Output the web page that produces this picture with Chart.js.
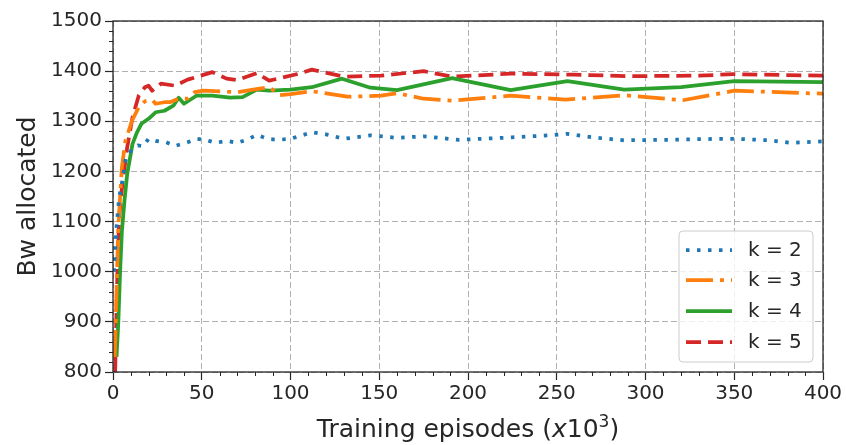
<!DOCTYPE html>
<html>
<head>
<meta charset="utf-8">
<script src="https://cdn.jsdelivr.net/npm/chart.js@4.4.1/dist/chart.umd.min.js"></script>
<style>
  html, body { margin: 0; padding: 0; background: #fff; }
  canvas { display: block; }
</style>
</head>
<body>
<canvas id="chart" width="846" height="445"></canvas>
<script>
// ---- data (x in thousands of episodes) ----
const X_K2 = [0.5, 2, 3.5, 5, 7, 8, 11, 14, 17, 20, 24, 30, 35, 42, 47, 52, 58, 64, 70, 76, 81, 87, 93, 100, 112, 120, 130, 145, 160, 175, 195, 225, 246, 256, 270, 288, 310, 341, 351, 370, 382, 400];
const Y_K2 = [1000, 1090, 1150, 1175, 1222, 1232, 1245, 1252, 1250, 1265, 1261, 1258, 1251, 1258, 1265, 1263, 1257, 1261, 1257, 1264, 1273, 1265, 1263, 1265, 1278, 1274, 1265, 1272, 1267, 1270, 1263, 1268, 1272, 1275, 1268, 1262, 1263, 1265, 1265, 1262, 1257, 1260];

const X_K3 = [1, 2, 3, 5, 7, 10.7, 14.5, 18, 22, 24, 29, 32, 37, 42, 46, 51, 70, 79, 88, 94, 100, 112, 132, 151, 160, 175, 191, 224, 255, 288, 321, 350, 400];
const Y_K3 = [830, 960, 1090, 1208, 1261, 1301, 1328, 1340, 1343, 1335, 1338, 1338, 1345, 1345, 1358, 1361, 1358, 1363, 1368, 1352, 1354, 1360, 1349, 1351, 1356, 1345, 1341, 1351, 1343, 1352, 1342, 1361, 1355];

const X_K4 = [2, 3, 4, 5, 6.5, 8, 11, 13.5, 16, 20, 24, 29, 34, 37, 40, 47, 56, 66, 73, 81, 88, 100, 112, 129, 145, 160, 191, 224, 256, 288, 320, 350, 400];
const Y_K4 = [830, 900, 1000, 1080, 1143, 1195, 1255, 1278, 1295, 1305, 1318, 1321, 1331, 1347, 1335, 1351, 1351, 1347, 1348, 1363, 1361, 1363, 1368, 1385, 1367, 1362, 1386, 1362, 1380, 1363, 1368, 1380, 1378];

const X_K5 = [1.2, 2.5, 3.5, 4.5, 6, 8, 11, 14.5, 18, 20, 22, 27, 35, 42, 56, 64, 70, 81, 88, 94, 105, 112, 130, 151, 175, 191, 224, 260, 290, 330, 350, 400];
const Y_K5 = [800, 1000, 1110, 1150, 1195, 1248, 1308, 1351, 1368, 1371, 1361, 1375, 1371, 1383, 1398, 1385, 1382, 1396, 1381, 1386, 1395, 1403, 1389, 1391, 1400, 1389, 1395, 1393, 1390, 1391, 1394, 1391];

const LABELS = ['k = 2', 'k = 3', 'k = 4', 'k = 5'];
const X_TICKS = [0, 50, 100, 150, 200, 250, 300, 350, 400];
const Y_TICKS = [800, 900, 1000, 1100, 1200, 1300, 1400, 1500];

const COLORS = ['#1f77b4', '#ff7f0e', '#2ca02c', '#d62728'];
const DASHES = [[3.5, 7.5], [27, 7, 4, 7], [], [15, 7]];
const TEXT = '#262626';
const FONT = '"DejaVu Sans", sans-serif';

const series = [[X_K2, Y_K2], [X_K3, Y_K3], [X_K4, Y_K4], [X_K5, Y_K5]];

// minor ticks, frame, axis titles, legend
const decor = {
  id: 'decor',
  afterDraw(chart) {
    const { ctx, chartArea: a, scales: { x, y } } = chart;
    ctx.save();
    ctx.strokeStyle = TEXT;
    ctx.lineWidth = 1;
    ctx.beginPath();
    for (let v = 0; v <= 400; v += 10) {
      if (v % 50 === 0) continue;
      const px = Math.round(x.getPixelForValue(v)) + 0.5;
      ctx.moveTo(px, a.bottom); ctx.lineTo(px, a.bottom + 4);
    }
    for (let v = 800; v <= 1500; v += 20) {
      if (v % 100 === 0) continue;
      const py = Math.round(y.getPixelForValue(v)) + 0.5;
      ctx.moveTo(a.left, py); ctx.lineTo(a.left - 4, py);
    }
    ctx.stroke();

    ctx.lineWidth = 1.3;
    ctx.strokeRect(a.left, a.top, a.right - a.left, a.bottom - a.top);

    // axis titles
    ctx.fillStyle = TEXT;
    ctx.textBaseline = 'alphabetic';
    const parts = [
      { t: 'Training episodes (', f: `25px ${FONT}`, dy: 0 },
      { t: 'x', f: `italic 25px ${FONT}`, dy: 0 },
      { t: '10', f: `25px ${FONT}`, dy: 0 },
      { t: '3', f: `17px ${FONT}`, dy: -10 },
      { t: ')', f: `25px ${FONT}`, dy: 0 }
    ];
    let w = 0;
    parts.forEach(p => { ctx.font = p.f; p.w = ctx.measureText(p.t).width; w += p.w; });
    let cx = (a.left + a.right) / 2 - w / 2;
    parts.forEach(p => { ctx.font = p.f; ctx.textAlign = 'left'; ctx.fillText(p.t, cx, 437 + p.dy); cx += p.w; });

    ctx.save();
    ctx.translate(35, (a.top + a.bottom) / 2);
    ctx.rotate(-Math.PI / 2);
    ctx.font = `25px ${FONT}`;
    ctx.textAlign = 'center';
    ctx.fillText('Bw allocated', 0, 0);
    ctx.restore();

    // legend box
    const bx = 679, by = 231, bw = 134, bh = 131, r = 4;
    ctx.beginPath();
    ctx.roundRect(bx, by, bw, bh, r);
    ctx.fillStyle = 'rgba(255,255,255,0.8)';
    ctx.fill();
    ctx.strokeStyle = '#cccccc';
    ctx.lineWidth = 1;
    ctx.stroke();
    const rows = [250, 280, 311, 342];
    LABELS.forEach((lab, i) => {
      ctx.beginPath();
      ctx.setLineDash(DASHES[i]);
      ctx.lineCap = 'butt';
      ctx.strokeStyle = COLORS[i];
      ctx.lineWidth = 3.75;
      ctx.moveTo(686, rows[i]); ctx.lineTo(732, rows[i]);
      ctx.stroke();
      ctx.setLineDash([]);
      ctx.fillStyle = TEXT;
      ctx.font = `20px ${FONT}`;
      ctx.textAlign = 'left';
      ctx.textBaseline = 'middle';
      ctx.fillText(lab, 748, rows[i] + 1);
    });
    ctx.restore();
  }
};

const gridOpts = {
  color: '#b0b0b0',
  lineWidth: 1,
  tickColor: TEXT,
  tickLength: 8,
  tickWidth: 1.2,
  tickBorderDash: []
};

new Chart(document.getElementById('chart'), {
  type: 'line',
  data: {
    datasets: series.map(([xs, ys], i) => ({
      label: LABELS[i],
      data: xs.map((v, j) => ({ x: v, y: ys[j] })),
      borderColor: COLORS[i],
      borderDash: DASHES[i],
      borderWidth: 3.75,
      borderCapStyle: 'butt',
      borderJoinStyle: 'round',
      pointRadius: 0,
      tension: 0,
      fill: false
    }))
  },
  options: {
    responsive: false,
    animation: false,
    layout: { padding: { top: 21, right: 23, left: 0, bottom: 0 } },
    plugins: { legend: { display: false }, tooltip: { enabled: false } },
    scales: {
      x: {
        type: 'linear', min: 0, max: 400,
        afterBuildTicks: s => { s.ticks = X_TICKS.map(v => ({ value: v })); },
        afterFit: s => { s.height = 73; },
        ticks: { color: TEXT, font: { family: FONT, size: 20 }, padding: 2, maxRotation: 0, callback: v => String(v) },
        grid: gridOpts,
        border: { display: false, dash: [6, 3] }
      },
      y: {
        type: 'linear', min: 800, max: 1500,
        afterBuildTicks: s => { s.ticks = Y_TICKS.map(v => ({ value: v })); },
        afterFit: s => { s.width = 113; },
        ticks: { color: TEXT, font: { family: FONT, size: 20 }, padding: 3, callback: v => String(v) },
        grid: gridOpts,
        border: { display: false, dash: [6, 3] }
      }
    }
  },
  plugins: [decor]
});
</script>
</body>
</html>
